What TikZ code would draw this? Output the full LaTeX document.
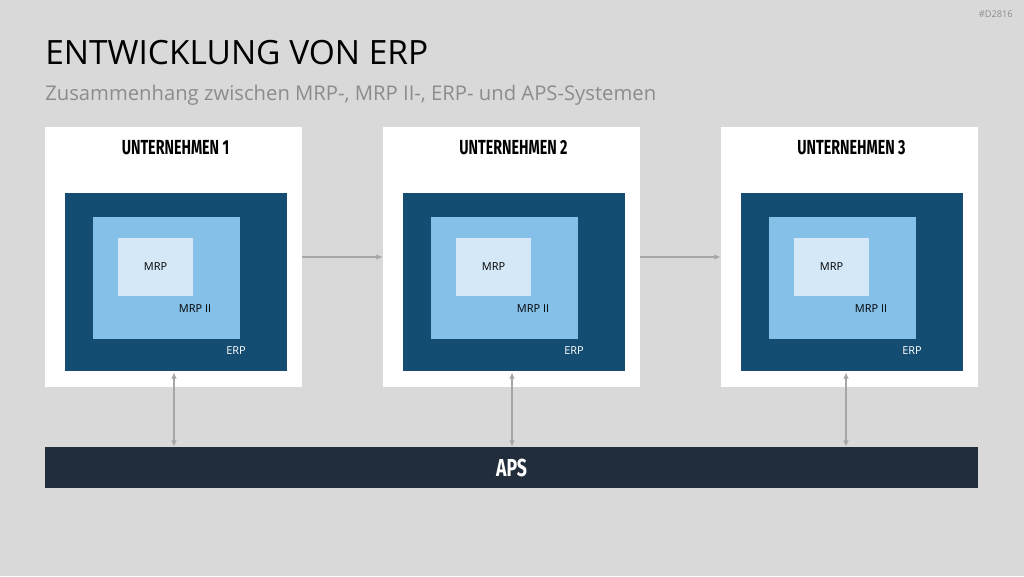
\documentclass[tikz,border=0pt]{standalone}
\usepackage{fontspec}
\setmainfont{Open Sans}
\newfontfamily\kopffont{Fira Sans}
\usetikzlibrary{arrows.meta}

\definecolor{hintergrund}{HTML}{D9D9D9}
\definecolor{erpblau}{HTML}{144C72}
\definecolor{mrpiiblau}{HTML}{85C0E8}
\definecolor{mrpblau}{HTML}{D5E8F7}
\definecolor{apsblau}{HTML}{212D3B}
\definecolor{pfeilgrau}{HTML}{A6A6A6}
\definecolor{textgrau}{HTML}{8C8C8C}

\tikzset{
  firma/.style={fill=white, inner sep=0pt, minimum width=64.25mm, minimum height=65mm},
  kopf/.style={inner sep=0pt, font=\kopffont\bfseries\fontsize{14.5}{14.5}\selectfont},
  erpbox/.style={fill=erpblau, inner sep=0pt, minimum width=55.5mm, minimum height=44.5mm},
  mrpiibox/.style={fill=mrpiiblau, inner sep=0pt, minimum width=36.75mm, minimum height=30.5mm},
  mrpbox/.style={fill=mrpblau, inner sep=0pt, minimum width=18.75mm, minimum height=14.5mm,
    font=\fontsize{7.8}{8}\selectfont},
  etikett/.style={inner sep=0pt, font=\fontsize{7.8}{8}\selectfont},
  pfeil/.style={draw=pfeilgrau, line width=0.5mm, -{Latex[length=1.6mm,width=1.4mm]}},
  doppelpfeil/.style={draw=pfeilgrau, line width=0.5mm,
    {Latex[length=1.6mm,width=1.4mm]}-{Latex[length=1.6mm,width=1.4mm]}},
}

\begin{document}
\begin{tikzpicture}[x=0.25mm, y=-0.25mm]
    % Here is the grey page
    \fill[hintergrund] (0,0) rectangle (1024,576);
    \useasboundingbox (0,0) rectangle (1024,576);

    % title and subtitle
    \node[anchor=east, inner sep=0pt, text=textgrau, font=\fontsize{6.6}{7}\selectfont] (tag) at (1013,14) {\#D2816};
    \node[anchor=base west, inner sep=0pt, font=\fontsize{23.8}{24}\selectfont] (titel) at (45,64) {ENTWICKLUNG VON ERP};
    \node[anchor=base west, inner sep=0pt, text=textgrau, font=\fontsize{14.4}{15}\selectfont] (untertitel) at (45,100)
      {Zusammenhang zwischen MRP-, MRP II-, ERP- und APS-Systemen};

    % three companies with nested systems
    \foreach \i/\dx in {1/0,2/338,3/676} {
      \node[firma] (u\i) at (173.5+\dx,257) {};
      \node[kopf] (k\i) at (175.5+\dx,148) {\scalebox{0.7}[1]{UNTERNEHMEN \i}};
      \node[erpbox] (erp\i) at (176+\dx,282) {};
      \node[mrpiibox] (mrpii\i) at (166.5+\dx,278) {};
      \node[mrpbox] (mrp\i) at (155.5+\dx,267) {MRP};
      \node[etikett] (lmrpii\i) at (195+\dx,309) {MRP II};
      \node[etikett, text=white] (lerp\i) at (236+\dx,351) {ERP};
    }

    % APS bar at the bottom
    \node[fill=apsblau, inner sep=0pt, minimum width=233.25mm, minimum height=10.25mm, text=white,
      font=\kopffont\bfseries\fontsize{17.5}{17.5}\selectfont] (aps) at (511.5,467.5) {\scalebox{0.72}[1]{APS}};

    % arrows between the companies
    \draw[pfeil] (u1.east) -- (u2.west);
    \draw[pfeil] (u2.east) -- (u3.west);

    % arrows down to APS
    \foreach \i/\ax in {1/174,2/512,3/846} {
      \coordinate (ax\i) at (\ax,0);
      \draw[doppelpfeil] (erp\i.south -| ax\i) ++(0,1) -- (aps.north -| ax\i);
    }
\end{tikzpicture}
\end{document}
